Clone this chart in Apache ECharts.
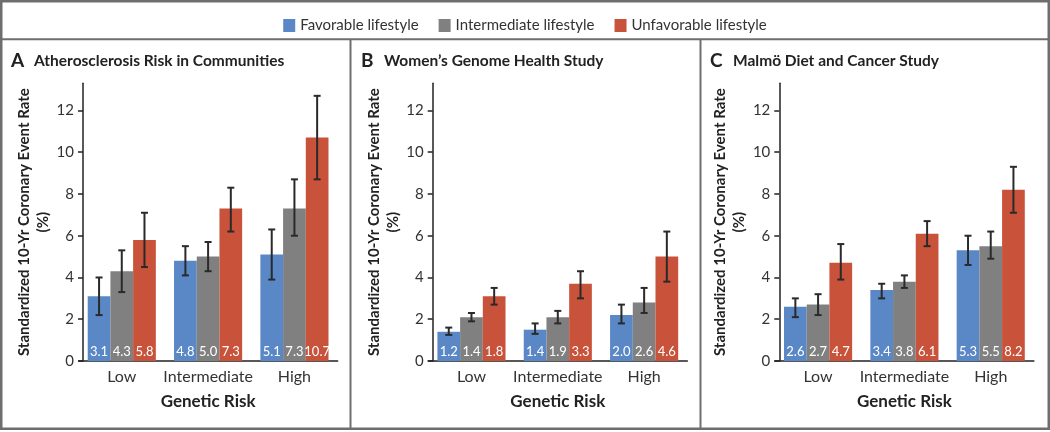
<!DOCTYPE html>
<html>
<head>
<meta charset="utf-8">
<script src="https://cdn.jsdelivr.net/npm/echarts@6/dist/echarts.min.js"></script>
<style>
html,body{margin:0;padding:0;background:#fff;}
#chart{width:1050px;height:432px;}
</style>
</head>
<body>
<div id="chart"></div>
<script>
// ---- data ----
const categories = ['Low', 'Intermediate', 'High'];
const lifestyles = ['Favorable lifestyle', 'Intermediate lifestyle', 'Unfavorable lifestyle'];
const panelLetters = ['A', 'B', 'C'];
const panelTitles = ['Atherosclerosis Risk in Communities', 'Women\u2019s Genome Health Study', 'Malm\u00f6 Diet and Cancer Study'];
const yTicks = [0, 2, 4, 6, 8, 10, 12];

// Panel A: ARIC
const aFav = [3.1, 4.8, 5.1];
const aInt = [4.3, 5.0, 7.3];
const aUnf = [5.8, 7.3, 10.7];
const aFavCI = [[2.2, 4.0], [4.1, 5.5], [3.9, 6.3]];
const aIntCI = [[3.3, 5.3], [4.3, 5.7], [6.0, 8.7]];
const aUnfCI = [[4.5, 7.1], [6.2, 8.3], [8.7, 12.7]];
const aFavLbl = [3.1, 4.8, 5.1];
const aIntLbl = [4.3, 5.0, 7.3];
const aUnfLbl = [5.8, 7.3, 10.7];

// Panel B: WGHS
const bFav = [1.4, 1.5, 2.2];
const bInt = [2.1, 2.1, 2.8];
const bUnf = [3.1, 3.7, 5.0];
const bFavCI = [[1.25, 1.6], [1.3, 1.8], [1.8, 2.7]];
const bIntCI = [[1.9, 2.3], [1.8, 2.4], [2.3, 3.5]];
const bUnfCI = [[2.7, 3.5], [3.0, 4.3], [3.8, 6.2]];
const bFavLbl = [1.2, 1.4, 2.0];
const bIntLbl = [1.4, 1.9, 2.6];
const bUnfLbl = [1.8, 3.3, 4.6];

// Panel C: MDCS
const cFav = [2.6, 3.4, 5.3];
const cInt = [2.7, 3.8, 5.5];
const cUnf = [4.7, 6.1, 8.2];
const cFavCI = [[2.1, 3.0], [3.0, 3.7], [4.6, 6.0]];
const cIntCI = [[2.2, 3.2], [3.5, 4.1], [4.9, 6.2]];
const cUnfCI = [[3.9, 5.6], [5.5, 6.7], [7.1, 9.3]];
const cFavLbl = [2.6, 3.4, 5.3];
const cIntLbl = [2.7, 3.8, 5.5];
const cUnfLbl = [4.7, 6.1, 8.2];

// ---- build ----
const FONT = 'Lato';
const colors = ['#5a87c5', '#808080', '#c8523a'];
const BW = 0.263; // bar width as fraction of category band
const panels = [
  {vals: [aFav, aInt, aUnf], ci: [aFavCI, aIntCI, aUnfCI], lbl: [aFavLbl, aIntLbl, aUnfLbl], axisX: 83},
  {vals: [bFav, bInt, bUnf], ci: [bFavCI, bIntCI, bUnfCI], lbl: [bFavLbl, bIntLbl, bUnfLbl], axisX: 432.7},
  {vals: [cFav, cInt, cUnf], ci: [cFavCI, cIntCI, cUnfCI], lbl: [cFavLbl, cIntLbl, cUnfLbl], axisX: 779.3}
];
const SHIFT = 4.4;
const grids = [], xAxes = [], yAxes = [], series = [], titles = [];
const axisColor = '#222';
panels.forEach((p, pi) => {
  grids.push({left: p.axisX - SHIFT, top: 83.3, width: 259, height: 277.7});
  xAxes.push({
    type: 'category', gridIndex: pi, data: categories,
    axisLine: {lineStyle: {color: axisColor, width: 1.5}},
    axisTick: {show: false},
    axisLabel: {color: '#333', fontSize: 16, fontFamily: FONT, margin: 8, interval: 0},
    name: 'Genetic Risk', nameLocation: 'middle', nameGap: 32,
    nameTextStyle: {color: '#222', fontSize: 17, fontWeight: 'bold', fontFamily: FONT}
  });
  yAxes.push({
    type: 'value', gridIndex: pi, min: 0, max: 13.3, offset: -SHIFT,
    axisLine: {show: true, lineStyle: {color: axisColor, width: 1.5}},
    axisTick: {show: true, length: 5, lineStyle: {color: axisColor, width: 1.5}, customValues: yTicks},
    axisLabel: {color: '#333', fontSize: 15, fontFamily: FONT, margin: 9, customValues: yTicks},
    splitLine: {show: false},
    name: 'Standardized 10-Yr Coronary Event Rate\n(%)', nameLocation: 'middle', nameRotate: 90, nameGap: 29,
    nameTextStyle: {color: '#222', fontSize: 15, fontWeight: 'bold', fontFamily: FONT, lineHeight: 19, align: 'center'}
  });
  titles.push({
    text: '{l|' + panelLetters[pi] + '}{t|' + panelTitles[pi] + '}',
    left: [6, 356, 705][pi], top: 46,
    textStyle: {rich: {
      l: {fontSize: 19, fontWeight: 'bold', color: '#222', fontFamily: FONT, width: 23},
      t: {fontSize: 15.5, fontWeight: 'bold', color: '#222', fontFamily: FONT}
    }}
  });
  p.vals.forEach((v, k) => {
    const lbl = p.lbl[k];
    series.push({
      type: 'bar', name: lifestyles[k], xAxisIndex: pi, yAxisIndex: pi,
      data: v, barWidth: (BW * 100) + '%', barGap: '0%',
      itemStyle: {color: colors[k]},
      label: {show: true, position: 'insideBottom', distance: 3, color: '#fff', fontSize: 13, fontFamily: FONT,
        formatter: (pr) => lbl[pr.dataIndex].toFixed(1)},
      emphasis: {disabled: true}
    });
  });
  const errData = [];
  p.ci.forEach((ci, k) => ci.forEach((c, j) => errData.push([j, c[0], c[1], k - 1])));
  series.push({
    type: 'custom', xAxisIndex: pi, yAxisIndex: pi, z: 5, silent: true,
    data: errData,
    encode: {x: 0, y: [1, 2]},
    renderItem: (params, api) => {
      const band = api.size([1, 0])[0];
      const x = api.coord([api.value(0), 0])[0] + api.value(3) * band * BW;
      const lo = api.coord([api.value(0), api.value(1)])[1];
      const hi = api.coord([api.value(0), api.value(2)])[1];
      const st = {stroke: '#2a2a2a', lineWidth: 2};
      const cap = 3.5;
      return {type: 'group', children: [
        {type: 'line', shape: {x1: x, y1: lo, x2: x, y2: hi}, style: st},
        {type: 'line', shape: {x1: x - cap, y1: hi, x2: x + cap, y2: hi}, style: st},
        {type: 'line', shape: {x1: x - cap, y1: lo, x2: x + cap, y2: lo}, style: st}
      ]};
    }
  });
});

const borderColor = '#6e6e6e';
const option = {
  animation: false,
  backgroundColor: '#fff',
  title: titles,
  legend: {
    data: lifestyles, top: 13, left: 'center', icon: 'rect', itemWidth: 12, itemHeight: 13, itemGap: 20,
    textStyle: {color: '#333', fontSize: 15, fontFamily: FONT}, selectedMode: false
  },
  grid: grids, xAxis: xAxes, yAxis: yAxes, series: series,
  graphic: [
    {type: 'rect', shape: {x: 1.25, y: 1.25, width: 1047.5, height: 427.5}, style: {fill: null, stroke: borderColor, lineWidth: 2.5}, silent: true},
    {type: 'line', shape: {x1: 0, y1: 39.3, x2: 1050, y2: 39.3}, style: {stroke: borderColor, lineWidth: 2}, silent: true},
    {type: 'line', shape: {x1: 350.5, y1: 39.3, x2: 350.5, y2: 430}, style: {stroke: borderColor, lineWidth: 2}, silent: true},
    {type: 'line', shape: {x1: 700.5, y1: 39.3, x2: 700.5, y2: 430}, style: {stroke: borderColor, lineWidth: 2}, silent: true}
  ]
};
const chart = echarts.init(document.getElementById('chart'), null, {renderer: 'canvas'});
chart.setOption(option);
</script>
</body>
</html>
